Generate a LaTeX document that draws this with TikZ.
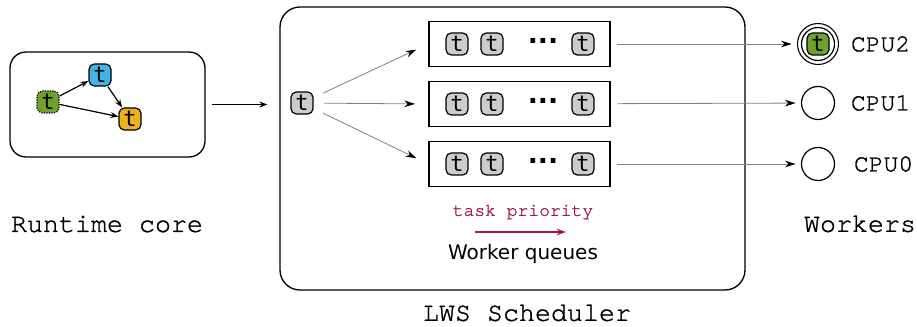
\documentclass[tikz,border=0pt]{standalone}
\usepackage{fontspec}
\setmainfont{DejaVu Sans}
\newfontfamily\codefont[FakeBold=1.2]{TeX Gyre Cursor}
\newfontfamily\taskfont{DejaVu Sans Mono}
\usetikzlibrary{arrows.meta}

\definecolor{taskgreen}{HTML}{6EA22B}
\definecolor{taskblue}{HTML}{42B4E6}
\definecolor{taskorange}{HTML}{EEB020}
\definecolor{taskgray}{HTML}{CCCCCC}
\definecolor{priored}{HTML}{A51D3D}

\tikzset{every picture/.style={line width=0.75pt},
  task/.style={draw, rounded corners=4pt, minimum size=16.5pt, inner sep=0pt,
    line width=0.9pt, font=\taskfont\fontsize{16.5}{16.5}\selectfont},
  panel/.style={draw, rounded corners=12pt, line width=1pt},
  queue/.style={draw, line width=1pt, minimum width=135.75pt, minimum height=33.75pt},
  cpu/.style={draw, circle, minimum size=24.75pt, inner sep=0pt, line width=0.9pt},
  biglabel/.style={font=\codefont\fontsize{20}{24}\selectfont},
  cpulabel/.style={font=\codefont\fontsize{18.5}{22}\selectfont, anchor=west},
  dag/.style={-{Stealth[length=6pt,width=4.5pt]}, line width=0.9pt},
  feed/.style={draw=gray, -{Stealth[length=8pt,width=5pt,color=black]}, line width=0.6pt}
}

\begin{document}
\begin{tikzpicture}[x=0.75pt,y=-0.75pt]
  \useasboundingbox (0,0) rectangle (917,327);

  % --- Runtime core ---
  \node[panel, minimum width=146.25pt, minimum height=78.75pt] (core) at (107.5,104.5) {};
  \node[task, fill=taskgreen, densely dotted] (tg) at (48,102) {t};
  \node[task, fill=taskblue] (tb) at (100,75) {t};
  \node[task, fill=taskorange] (to) at (130,119) {t};
  \draw[dag] (tg) -- (tb);
  \draw[dag] (tb) -- (to);
  \draw[dag] (tg) -- (to);
  \node[biglabel] (corelbl) at (107,224) {Runtime core};

  % --- LWS Scheduler ---
  \node[panel, rounded corners=15pt, minimum width=348.75pt, minimum height=212.25pt] (sched) at (512.5,148.5) {};
  \node[task, fill=taskgray] (tin) at (302,103) {t};
  \draw[dag, shorten <=5pt, shorten >=9pt] (core.east) -- (core.east -| sched.west);
  \foreach \q/\y in {q2/44, q1/104, q0/164} {
    \node[queue] (\q) at (519.5,\y) {};
    \node[task, fill=taskgray] (\q a) at (457,\y) {t};
    \node[task, fill=taskgray] (\q b) at (492,\y) {t};
    \node[font=\bfseries\fontsize{20}{20}\selectfont] (\q dots) at (543,\y-3) {...};
    \node[task, fill=taskgray] (\q c) at (583,\y) {t};
    \draw[feed, shorten <=8pt, shorten >=10pt] (tin) -- (\q.west);
  }
  \node[font=\codefont\fontsize{13.5}{16}\selectfont, text=priored] (prio) at (523,212) {task priority};
  \coordinate (prioA) at (475,232);
  \coordinate (prioB) at (566,232);
  \draw[priored, -{Stealth[length=7pt,width=5pt]}, line width=1.1pt] (prioA) -- (prioB);
  \node[font=\fontsize{15}{18}\selectfont] (wq) at (523,254) {Worker queues};
  \node[biglabel] (schedlbl) at (527,313) {LWS Scheduler};

  % --- Workers ---
  \node[cpu] (cpu2) at (818,44) {};
  \node[draw, circle, minimum size=30.75pt, inner sep=0pt, line width=0.8pt] (cpu2ring) at (818,44) {};
  \node[task, fill=taskgreen] (trun) at (818,44) {t};
  \node[cpu] (cpu1) at (818,103) {};
  \node[cpu] (cpu0) at (818,164) {};
  \foreach \q/\c in {q2/cpu2ring, q1/cpu1, q0/cpu0}
    \draw[feed, shorten <=5pt, shorten >=4pt] (\q) -- (\c);
  \node[cpulabel] (cpu2lbl) at (846,44) {CPU2};
  \node[cpulabel] (cpu1lbl) at (846,103) {CPU1};
  \node[cpulabel] (cpu0lbl) at (849,164) {CPU0};
  \node[biglabel] (wlbl) at (860,224) {Workers};
\end{tikzpicture}
\end{document}
